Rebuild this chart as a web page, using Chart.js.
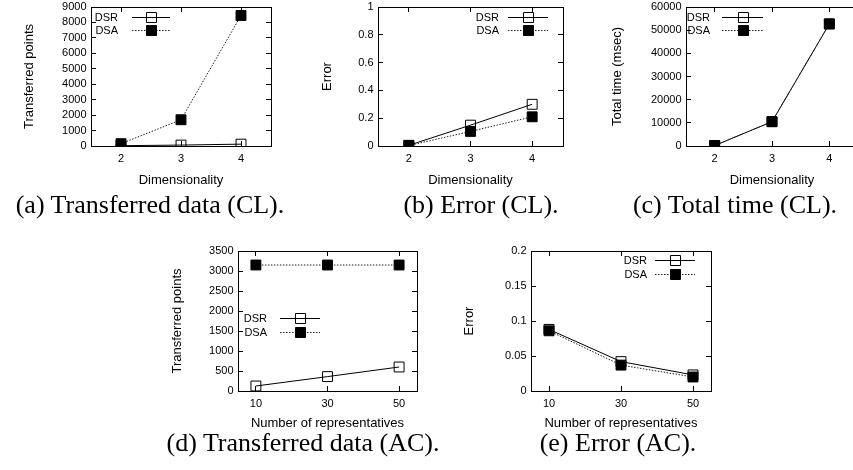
<!DOCTYPE html>
<html>
<head>
<meta charset="utf-8">
<script src="https://cdn.jsdelivr.net/npm/chart.js@4.4.1/dist/chart.umd.min.js"></script>
<style>
  html, body { margin: 0; padding: 0; background: #fff; }
  body { width: 853px; height: 470px; overflow: hidden; position: relative; }
  canvas { position: absolute; }
  .cap {
    position: absolute; white-space: nowrap; transform: translateX(-50%);
    font-family: "Liberation Serif", serif; font-size: 26px; line-height: 26px; color: #000;
  }
</style>
</head>
<body>

<canvas id="cA"></canvas>
<canvas id="cB"></canvas>
<canvas id="cC"></canvas>
<canvas id="cD"></canvas>
<canvas id="cE"></canvas>

<div class="cap" style="left:150px; top:192px">(a) Transferred data (CL).</div>
<div class="cap" style="left:481px; top:192px">(b) Error (CL).</div>
<div class="cap" style="left:735px; top:192px">(c) Total time (CL).</div>
<div class="cap" style="left:303px; top:430px">(d) Transferred data (AC).</div>
<div class="cap" style="left:618px; top:430px">(e) Error (AC).</div>

<script>
// ---- datos ----
const dims = [2, 3, 4];
const reps = [10, 30, 50];
const seriesNames = ["DSR", "DSA"];

// (a) puntos transferidos vs dimensionalidad (CL)
const clPointsDSR = [20, 60, 120];
const clPointsDSA = [150, 1700, 8450];
// (b) error vs dimensionalidad (CL)
const clErrorDSR = [0.005, 0.15, 0.30];
const clErrorDSA = [0.003, 0.105, 0.21];
// (c) tiempo total (msec)
const clTimeDSR = [200, 10500, 52700];
const clTimeDSA = [200, 10500, 52700];
// (d) puntos transferidos vs nº representantes (AC)
const acPointsDSR = [125, 360, 600];
const acPointsDSA = [3150, 3150, 3150];
// (e) error vs nº representantes (AC)
const acErrorDSR = [0.088, 0.042, 0.023];
const acErrorDSA = [0.086, 0.037, 0.020];

// ---- estilo ----
const SANS = '"Liberation Sans", Arial, sans-serif';
const TICK_PX = 11, TITLE_PX = 13, LEG_PX = 11;
const YW = 80, XH = 50, PT = 20, PR = 20; // márgenes del canvas alrededor del área
const TL = -5;                            // marcas de tick hacia dentro (estilo gnuplot)

// leyenda estilo gnuplot: texto, línea de muestra y marcador
const gpLegend = {
  id: "gpLegend",
  afterDatasetsDraw(chart, args, o) {
    if (!o || o.tx == null) return;
    const { ctx, chartArea: a } = chart;
    ctx.save();
    ctx.font = LEG_PX + "px " + SANS;
    ctx.textAlign = "right";
    ctx.textBaseline = "middle";
    chart.data.datasets.forEach((ds, i) => {
      const y = Math.round(a.top + o.y0 + i * o.dy) + 0.5;
      ctx.fillStyle = "#000";
      ctx.fillText(ds.label, a.left + o.tx, y);
      ctx.strokeStyle = ds.borderColor;
      ctx.lineWidth = 1;
      ctx.setLineDash(ds.borderDash || []);
      ctx.beginPath();
      ctx.moveTo(a.left + o.l1, y);
      ctx.lineTo(a.left + o.l2, y);
      ctx.stroke();
      ctx.setLineDash([]);
      const cx = Math.round(a.left + (o.l1 + o.l2) / 2) + 0.5;
      ctx.beginPath();
      ctx.rect(cx - 5, y - 5, 10, 10);
      if (ds.pointBackgroundColor !== "rgba(0,0,0,0)") { ctx.fillStyle = ds.pointBackgroundColor; ctx.fill(); }
      ctx.strokeStyle = "#000";
      ctx.stroke();
    });
    ctx.restore();
  }
};

const fmtNum = (v) => String(Math.round(v * 10000) / 10000);

function serie(name, xs, ys) {
  const open = name === "DSR";
  return {
    label: name,
    data: xs.map((x, i) => ({ x: x, y: ys[i] })),
    borderColor: open ? "#000" : "#222",
    borderWidth: 1,
    borderDash: open ? [] : [1.5, 1.5],
    pointStyle: "rect",
    pointRadius: 7,
    pointHoverRadius: 7,
    pointBorderWidth: 1,
    pointBorderColor: "#000",
    pointBackgroundColor: open ? "rgba(0,0,0,0)" : "#000",
    order: open ? 1 : 0,   // DSA encima
    tension: 0,
    fill: false
  };
}

function makePlot(id, box, x, y, dsr, dsa, leg) {
  const cv = document.getElementById(id);
  const w = box.r - box.l + YW + PR;
  const h = box.b - box.t + PT + XH;
  cv.width = w; cv.height = h;
  cv.style.width = w + "px"; cv.style.height = h + "px";
  cv.style.left = (box.l - YW) + "px";
  cv.style.top = (box.t - PT) + "px";

  const tickFont = { family: SANS, size: TICK_PX };
  const titleFont = { family: SANS, size: TITLE_PX, lineHeight: 1.2 };
  const lh = TITLE_PX * 1.2;
  const setX = (s) => { s.ticks = x.ticks.map(v => ({ value: v })); };
  const grid = { drawOnChartArea: false, drawTicks: true, tickLength: TL, color: "#000", lineWidth: 1 };
  const border = { display: true, color: "#000", width: 1 };

  const ch = new Chart(cv, {
    type: "line",
    data: { datasets: [serie(seriesNames[0], x.vals, dsr), serie(seriesNames[1], x.vals, dsa)] },
    options: {
      responsive: false,
      animation: false,
      events: [],
      layout: { padding: { top: PT, right: PR, left: 0, bottom: 0 } },
      plugins: { legend: { display: false }, tooltip: { enabled: false }, gpLegend: leg },
      scales: {
        x: {
          type: "linear", position: "bottom", min: x.min, max: x.max,
          afterBuildTicks: setX,
          afterFit: (s) => { s.height = XH; },
          grid: grid, border: border,
          ticks: { font: tickFont, color: "#000", padding: 13 - TL - 6.5, maxRotation: 0, autoSkip: false, callback: fmtNum },
          title: { display: true, text: x.title, font: titleFont, color: "#000",
                   padding: { top: 0, bottom: XH - x.titleDy - lh / 2 } }
        },
        x2: {
          type: "linear", position: "top", min: x.min, max: x.max,
          afterBuildTicks: setX,
          afterFit: (s) => { s.height = 0; },
          grid: grid, border: border, ticks: { display: false }
        },
        y: {
          type: "linear", position: "left", min: 0, max: y.max,
          ticks: { stepSize: y.step, font: tickFont, color: "#000", padding: 4.5 - TL, autoSkip: false, callback: fmtNum },
          afterFit: (s) => { s.width = YW; },
          grid: grid, border: border,
          title: { display: true, text: y.title, font: titleFont, color: "#000",
                   padding: { top: YW - y.titleDx - lh / 2, bottom: 0 } }
        },
        y2: {
          type: "linear", position: "right", min: 0, max: y.max,
          ticks: { stepSize: y.step, display: false },
          afterFit: (s) => { s.width = 0; },
          grid: grid, border: border
        }
      }
    },
    plugins: [gpLegend]
  });

  // por si el layout desplaza el área, recolocar el canvas
  const a = ch.chartArea;
  cv.style.left = (box.l - a.left) + "px";
  cv.style.top = (box.t - a.top) + "px";
}

const dimAxis = { vals: dims, ticks: dims, min: 1.5, max: 4.5, title: "Dimensionality", titleDy: 34 };
const repAxis = { vals: reps, ticks: reps, min: 5, max: 55, title: "Number of representatives", titleDy: 32 };

makePlot("cA", { l: 91, r: 271, t: 7, b: 146 }, dimAxis,
  { max: 9000, step: 1000, title: "Transferred points", titleDx: 62 },
  clPointsDSR, clPointsDSA, { tx: 27, l1: 41, l2: 79, y0: 10, dy: 12.5 });

makePlot("cB", { l: 378, r: 563, t: 7, b: 146 }, dimAxis,
  { max: 1, step: 0.2, title: "Error", titleDx: 51 },
  clErrorDSR, clErrorDSA, { tx: 121, l1: 130, l2: 170, y0: 10, dy: 12.5 });

makePlot("cC", { l: 686, r: 858, t: 7, b: 146 }, dimAxis,
  { max: 60000, step: 10000, title: "Total time (msec)", titleDx: 69 },
  clTimeDSR, clTimeDSA, { tx: 24, l1: 36, l2: 77, y0: 10, dy: 12.5 });

makePlot("cD", { l: 238, r: 417, t: 251, b: 391 }, repAxis,
  { max: 3500, step: 500, title: "Transferred points", titleDx: 61 },
  acPointsDSR, acPointsDSA, { tx: 29, l1: 42, l2: 82, y0: 67, dy: 14 });

makePlot("cE", { l: 531, r: 711, t: 251, b: 391 }, repAxis,
  { max: 0.2, step: 0.05, title: "Error", titleDx: 62 },
  acErrorDSR, acErrorDSA, { tx: 116, l1: 124, l2: 164, y0: 9, dy: 14 });
</script>
</body>
</html>
